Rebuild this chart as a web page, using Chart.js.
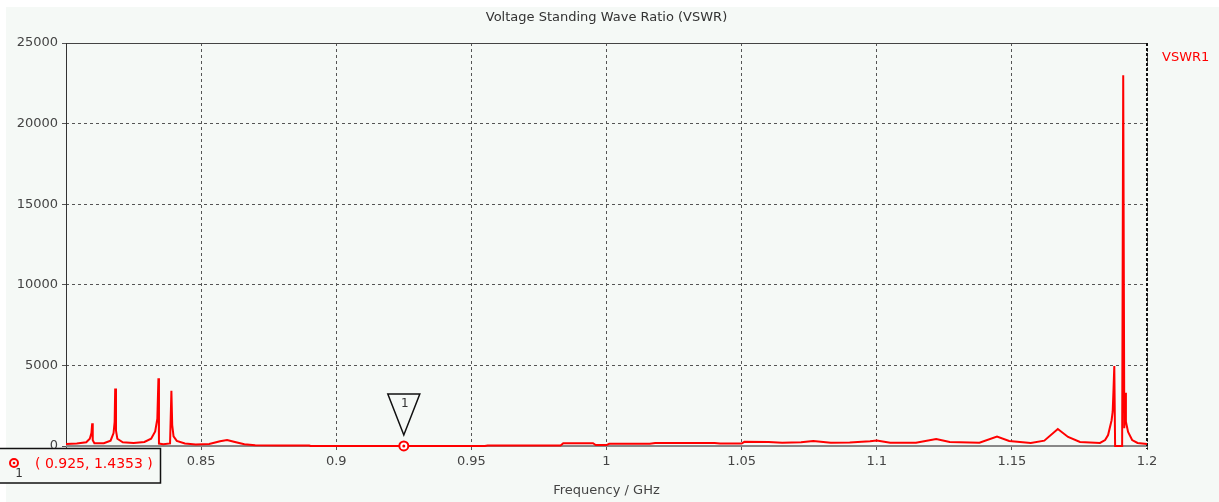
<!DOCTYPE html>
<html>
<head>
<meta charset="utf-8">
<script src="https://cdn.jsdelivr.net/npm/chart.js@4/dist/chart.umd.min.js"></script>
<style>
  html, body { margin: 0; padding: 0; background: #ffffff; }
  #wrap { width: 1219px; height: 502px; }
</style>
</head>
<body>
<div id="wrap"><canvas id="vswrChart" width="1219" height="502"></canvas></div>
<script>
// frequency (GHz) and VSWR
const freqs = [
  0.8000, 0.8040, 0.8075, 0.8088, 0.8094, 0.8097, 0.8099, 0.8105, 0.8140, 0.8165,
  0.8176, 0.8180, 0.8182, 0.8185, 0.8190, 0.8210, 0.8250, 0.8290, 0.8315, 0.8330,
  0.8338, 0.8342, 0.8344, 0.8360, 0.8385, 0.8390, 0.8393, 0.8398, 0.8410, 0.8440,
  0.8480, 0.8530, 0.8570, 0.8596, 0.8625, 0.8660, 0.8700, 0.8800, 0.8900, 0.8905,
  0.9100, 0.9250, 0.9400, 0.9550, 0.9560, 0.9830, 0.9840, 0.9950, 0.9960, 1.0000,
  1.0010, 1.0160, 1.0180, 1.0400, 1.0420, 1.0500, 1.0510, 1.0600, 1.0650, 1.0720,
  1.0765, 1.0830, 1.0900, 1.0975, 1.1000, 1.1050, 1.1145, 1.1220, 1.1270, 1.1380,
  1.1445, 1.1490, 1.1570, 1.1620, 1.1670, 1.1708, 1.1752, 1.1826, 1.1845, 1.1856,
  1.1869, 1.1873, 1.1876, 1.1879, 1.1882, 1.1908, 1.1912, 1.1916, 1.1919, 1.1922,
  1.1930, 1.1945, 1.1965, 1.2000
];
const vswr = [
  130, 150, 230, 450, 800, 1410, 350, 170, 170, 330,
  800, 1500, 3560, 950, 450, 230, 180, 250, 450, 900,
  1700, 4200, 150, 110, 160, 3430, 1300, 600, 320, 160,
  100, 130, 300, 370, 250, 110, 50, 35, 30, 1.6,
  1.5, 1.4353, 1.5, 1.8, 30, 30, 170, 170, 60, 60,
  140, 140, 190, 190, 150, 150, 260, 250, 200, 240,
  310, 200, 210, 300, 340, 200, 200, 430, 250, 200,
  580, 310, 190, 330, 1050, 560, 250, 190, 370, 680,
  1600, 2130, 3470, 4960, 5, 5, 23000, 1100, 3300, 1500,
  870, 370, 190, 120
];

const xTicks = [0.8, 0.85, 0.9, 0.95, 1, 1.05, 1.1, 1.15, 1.2];
const yTicks = [0, 5000, 10000, 15000, 20000, 25000];

const markerFreq = 0.925;
const markerValue = 1.4353;
const markerName = '1';

const chartTitle = 'Voltage Standing Wave Ratio (VSWR)';
const xTitle = 'Frequency / GHz';
const seriesName = 'VSWR1';

const bgColor = '#f5f9f6';
const red = '#ff0000';
const font = '"DejaVu Sans", sans-serif';

const points = freqs.map((f, i) => ({ x: f, y: vswr[i] }));

const decorations = {
  id: 'decorations',
  beforeDraw(chart) {
    const ctx = chart.ctx;
    ctx.save();
    ctx.fillStyle = bgColor;
    ctx.fillRect(6, 7, chart.width - 6, chart.height - 7);
    ctx.restore();
  },
  beforeDatasetsDraw(chart) {
    const { ctx, chartArea: a } = chart;
    ctx.save();
    // frame
    ctx.lineWidth = 1;
    ctx.strokeStyle = '#444';
    ctx.beginPath();
    ctx.moveTo(a.left, a.top + 0.5);
    ctx.lineTo(a.right, a.top + 0.5);
    ctx.stroke();
    ctx.strokeStyle = '#333';
    ctx.beginPath();
    ctx.moveTo(a.left + 0.5, a.top);
    ctx.lineTo(a.left + 0.5, a.bottom);
    ctx.stroke();
    ctx.lineWidth = 2;
    ctx.strokeStyle = '#888';
    ctx.beginPath();
    ctx.moveTo(a.left, a.bottom);
    ctx.lineTo(a.right, a.bottom);
    ctx.stroke();
    ctx.strokeStyle = '#111';
    ctx.setLineDash([3, 2]);
    ctx.beginPath();
    ctx.moveTo(a.right, a.top);
    ctx.lineTo(a.right, a.bottom + 3);
    ctx.stroke();
    ctx.restore();
  },
  afterDraw(chart) {
    const { ctx, chartArea: a, scales } = chart;
    ctx.save();
    ctx.textAlign = 'center';
    ctx.textBaseline = 'middle';

    // title + axis title
    ctx.fillStyle = '#333';
    ctx.font = '13px ' + font;
    ctx.fillText(chartTitle, (a.left + a.right) / 2, 18);
    ctx.fillStyle = '#444';
    ctx.fillText(xTitle, (a.left + a.right) / 2, 491);

    // legend
    ctx.fillStyle = red;
    ctx.textAlign = 'left';
    ctx.fillText(seriesName, a.right + 15, 58);

    // marker on the curve
    const mx = scales.x.getPixelForValue(markerFreq);
    const my = scales.y.getPixelForValue(markerValue);
    ctx.lineWidth = 2;
    ctx.strokeStyle = red;
    ctx.fillStyle = '#ffffff';
    ctx.beginPath();
    ctx.arc(mx, my, 4.5, 0, Math.PI * 2);
    ctx.fill();
    ctx.stroke();
    ctx.fillStyle = red;
    ctx.beginPath();
    ctx.arc(mx, my, 1.5, 0, Math.PI * 2);
    ctx.fill();

    // triangle flag
    ctx.strokeStyle = '#111';
    ctx.lineWidth = 1.5;
    ctx.fillStyle = bgColor;
    ctx.beginPath();
    ctx.moveTo(mx - 16, my - 52);
    ctx.lineTo(mx + 16, my - 52);
    ctx.lineTo(mx, my - 11);
    ctx.closePath();
    ctx.fill();
    ctx.stroke();
    ctx.fillStyle = '#333';
    ctx.textAlign = 'center';
    ctx.font = '12px ' + font;
    ctx.fillText(markerName, mx + 1, my - 42);

    // readout box
    ctx.fillStyle = bgColor;
    ctx.fillRect(0, 448, 161, 35);
    ctx.strokeStyle = '#111';
    ctx.lineWidth = 1.5;
    ctx.strokeRect(-1, 448.5, 161.5, 34.5);
    ctx.strokeStyle = red;
    ctx.lineWidth = 2;
    ctx.fillStyle = bgColor;
    ctx.beginPath();
    ctx.arc(14, 463, 4, 0, Math.PI * 2);
    ctx.fill();
    ctx.stroke();
    ctx.fillStyle = red;
    ctx.beginPath();
    ctx.arc(14, 463, 1.3, 0, Math.PI * 2);
    ctx.fill();
    ctx.fillStyle = '#333';
    ctx.font = '12px ' + font;
    ctx.fillText(markerName, 19, 474);
    ctx.fillStyle = red;
    ctx.textAlign = 'left';
    ctx.font = '14px ' + font;
    ctx.fillText('( ' + markerFreq + ', ' + markerValue + ' )', 35, 464);
    ctx.restore();
  }
};

const ctx = document.getElementById('vswrChart').getContext('2d');
const vswrChart = new Chart(ctx, {
  type: 'line',
  data: {
    datasets: [
      {
        label: seriesName,
        data: points,
        borderColor: red,
        borderWidth: 2,
        pointRadius: 0,
        tension: 0,
        fill: false,
        clip: 4
      }
    ]
  },
  options: {
    responsive: false,
    animation: false,
    events: [],
    layout: { padding: { left: 0, top: 43, right: 72, bottom: 0 } },
    plugins: {
      legend: { display: false },
      title: { display: false },
      tooltip: { enabled: false }
    },
    scales: {
      x: {
        type: 'linear',
        min: 0.8,
        max: 1.2,
        afterBuildTicks: scale => { scale.ticks = xTicks.map(v => ({ value: v })); },
        afterFit: scale => { scale.height = 56; },
        ticks: {
          color: '#444',
          font: { family: font, size: 13 },
          padding: 4,
          maxRotation: 0,
          callback: v => String(Number(v.toFixed(2)))
        },
        grid: { color: '#555', lineWidth: 1, tickLength: 4 },
        border: { display: false, dash: [3, 3] }
      },
      y: {
        min: 0,
        max: 25000,
        afterBuildTicks: scale => { scale.ticks = yTicks.map(v => ({ value: v })); },
        afterFit: scale => { scale.width = 66; },
        ticks: {
          color: '#444',
          font: { family: font, size: 13 },
          padding: 4,
          callback: v => String(v)
        },
        grid: { color: '#555', lineWidth: 1, tickLength: 4 },
        border: { display: false, dash: [3, 3] }
      }
    }
  },
  plugins: [decorations]
});
</script>
</body>
</html>
